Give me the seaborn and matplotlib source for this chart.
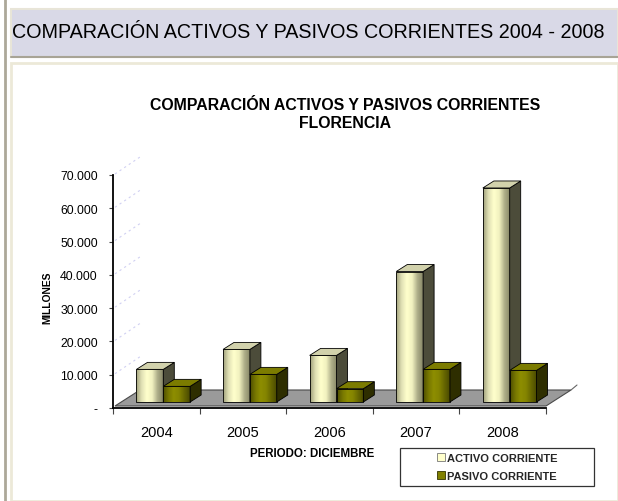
import numpy as np
import pandas as pd
import matplotlib
matplotlib.use('Agg')
import matplotlib.pyplot as plt
import matplotlib.transforms as mtransforms
from matplotlib.colors import LinearSegmentedColormap
from matplotlib.patches import Polygon, Rectangle, Patch
from matplotlib.lines import Line2D
import seaborn as sns

# Data (millones)
years = ["2004", "2005", "2006", "2007", "2008"]
activo = [9800, 15800, 14000, 39200, 64300]
pasivo = [4700, 8300, 4000, 9800, 9500]
series = ["ACTIVO CORRIENTE", "PASIVO CORRIENTE"]
y_ticks = [0, 10000, 20000, 30000, 40000, 50000, 60000, 70000]
y_tick_labels = ["-", "10.000", "20.000", "30.000", "40.000", "50.000", "60.000", "70.000"]

df = pd.DataFrame({
    "Periodo": years * 2,
    "Valor": activo + pasivo,
    "Serie": [series[0]] * len(years) + [series[1]] * len(years),
})

sns.set_theme(style="white")
plt.rcParams["font.family"] = ["Liberation Sans", "DejaVu Sans"]

W, H = 618, 502
fig = plt.figure(figsize=(W / 100, H / 100), dpi=100)
fig.patch.set_facecolor("white")


def fx(x):
    return x / W


def fy(y):
    return 1 - y / H


# page decorations: left rule, header band, chart frame (behind the axes)
fig.add_artist(Line2D([fx(5), fx(5)], [0, 1], color="#aca899", lw=2, zorder=-2))
fig.add_artist(Rectangle((fx(11), fy(58)), fx(618) - fx(11), fy(10) - fy(58),
                         facecolor="#d9d9e7", edgecolor="#e8e5d8", lw=1.5, zorder=-2))
fig.add_artist(Line2D([fx(11), 1], [fy(58), fy(58)], color="#a8a496", lw=1.5, zorder=-2))
fig.add_artist(Rectangle((fx(11), fy(502)), fx(618) - fx(11), fy(64) - fy(502),
                         facecolor="white", edgecolor="#ece9d8", lw=2, zorder=-2))
fig.text(fx(12), fy(33), "COMPARACIÓN ACTIVOS Y PASIVOS CORRIENTES 2004 - 2008",
         ha="left", va="center", fontsize=14.2, color="black")

fig.text(fx(345), fy(114), "COMPARACIÓN ACTIVOS Y PASIVOS CORRIENTES\nFLORENCIA",
         ha="center", va="center", fontsize=11.4, fontweight="bold", linespacing=1.25,
         color="black")

ax = fig.add_axes([fx(113), fy(409), fx(546) - fx(113), fy(176) - fy(409)])
ax.patch.set_alpha(0)

sns.barplot(data=df, x="Periodo", y="Valor", hue="Serie",
            palette=["#ffffcc", "#808000"], width=0.62, saturation=1,
            edgecolor="black", linewidth=0.6, legend=False, ax=ax)

ax.set_xlim(-0.5, len(years) - 0.5)
ax.set_ylim(0, 70000)

ppx = ax.bbox.width / len(years)
ppy = ax.bbox.height / 70000
ddx, ddy = 11 / ppx, 7 / ppy

shift = mtransforms.ScaledTranslation(7 / 100, 6 / 100, fig.dpi_scale_trans)
tr = ax.transData + shift

ident = mtransforms.IdentityTransform()
p0 = ax.transData.transform((-0.5, 0))
p1 = ax.transData.transform((len(years) - 0.5, 0))
floor = [(p0[0] + 2, p0[1] + 2), (p1[0], p1[1] + 2),
         (p1[0] + 25, p1[1] + 18), (p0[0] + 27, p0[1] + 18)]
ax.add_patch(Polygon(floor, closed=True, facecolor="#9a9a9a", edgecolor="#4a4a4a",
                     lw=0.8, transform=ident, clip_on=False, zorder=1))
ax.add_line(Line2D([p1[0] + 25, p1[0] + 31], [p1[1] + 18, p1[1] + 23],
                   color="#666666", lw=0.8, transform=ident, clip_on=False))

# light dashed gridlines on the side wall
for v in y_ticks[1:]:
    q = ax.transData.transform((-0.5, v))
    ax.add_line(Line2D([q[0] + 2, q[0] + 27], [q[1] + 1, q[1] + 18], color="#d0d0f2",
                       lw=0.8, ls=(0, (2, 3)), transform=ident, clip_on=False, zorder=1))

styles = [
    dict(grad=["#a0a07c", "#e0e0b4", "#ffffcc", "#f2f2c0", "#b0b08a", "#888868"],
         side="#4c4c3a", top="#d2d2ac", z=2),
    dict(grad=["#4e4e00", "#777700", "#8e8e00", "#848400", "#666600", "#4a4a00"],
         side="#2e2e00", top="#7c7c00", z=3),
]

grad = np.linspace(0, 1, 64).reshape(1, -1)
for cont, st in zip(ax.containers, styles):
    cmap = LinearSegmentedColormap.from_list("bar", st["grad"])
    for p in cont.patches:
        x0, w, h = p.get_x(), p.get_width(), p.get_height()
        x1 = x0 + w
        p.set_transform(tr)
        p.set_facecolor("none")
        p.set_zorder(st["z"] + 0.1)
        im = ax.imshow(grad, cmap=cmap, aspect="auto", extent=[x0, x1, 0, h],
                       transform=tr, zorder=st["z"], interpolation="bilinear")
        im.set_clip_path(p)
        side = [(x1, 0), (x1 + ddx, ddy), (x1 + ddx, h + ddy), (x1, h)]
        top = [(x0, h), (x0 + ddx, h + ddy), (x1 + ddx, h + ddy), (x1, h)]
        ax.add_patch(Polygon(side, closed=True, facecolor=st["side"], edgecolor="black",
                             lw=0.6, transform=tr, zorder=st["z"] + 0.2, clip_on=False))
        ax.add_patch(Polygon(top, closed=True, facecolor=st["top"], edgecolor="black",
                             lw=0.6, transform=tr, zorder=st["z"] + 0.2, clip_on=False))

ax.set_xlim(-0.5, len(years) - 0.5)
ax.set_ylim(0, 70000)

for s in ["top", "right"]:
    ax.spines[s].set_visible(False)
for s in ["left", "bottom"]:
    ax.spines[s].set_color("black")
    ax.spines[s].set_linewidth(1.3)

ax.set_yticks(y_ticks, labels=y_tick_labels)
ax.set_xticks(range(len(years)), labels=years)
ax.set_xticks(np.arange(-0.5, len(years)), minor=True)
ax.tick_params(axis="y", which="major", direction="out", length=3, width=0.8,
               color="#444444", pad=8, labelsize=8.8, labelcolor="black", left=True)
ax.tick_params(axis="x", which="major", length=0, pad=12, labelsize=10.5, labelcolor="black")
ax.tick_params(axis="x", which="minor", direction="out", length=4, width=0.8,
               color="#444444", bottom=True)
ax.set_xlabel("")
ax.set_ylabel("")

fig.text(fx(47), fy(298), "MILLONES", rotation=90, ha="center", va="center",
         fontsize=7.4, fontweight="bold", color="black")
fig.text(fx(312), fy(454), "PERIODO: DICIEMBRE", ha="center", va="center",
         fontsize=8.3, fontweight="bold", color="black")

# legend
fig.add_artist(Rectangle((fx(400), fy(487)), fx(594) - fx(400), fy(449) - fy(487),
                         facecolor="white", edgecolor="#333333", lw=0.9))
handles = [Patch(facecolor="#ffffcc", edgecolor="#777777", lw=0.6),
           Patch(facecolor="#808000", edgecolor="#333300", lw=0.6)]
fig.legend(handles, series, loc="center", bbox_to_anchor=(fx(497), fy(468)),
           frameon=False, prop={"weight": "bold", "size": 8},
           handlelength=0.7, handleheight=0.7, handletextpad=0.2,
           labelspacing=0.75, borderpad=0)

fig.savefig("out.png", dpi=100)
plt.close(fig)
